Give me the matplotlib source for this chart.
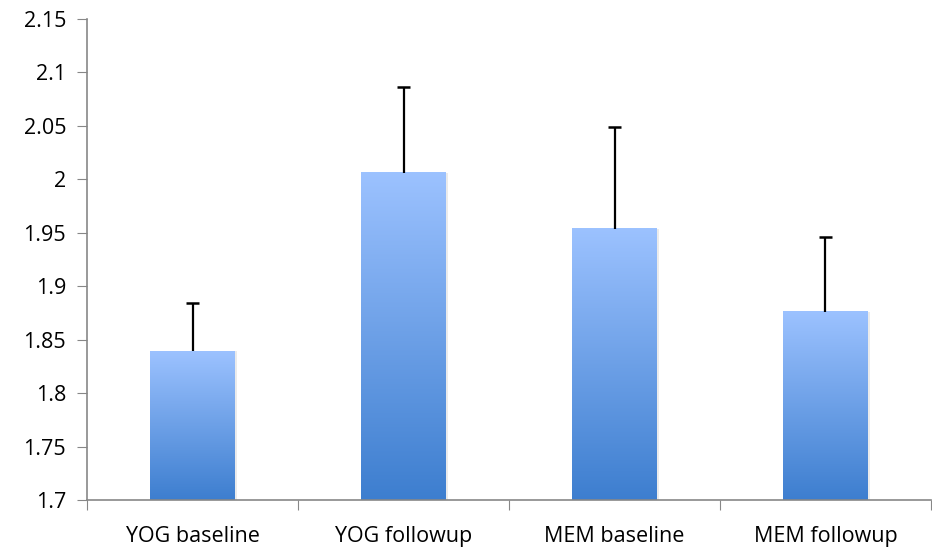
import matplotlib.pyplot as plt
import numpy as np
from matplotlib.colors import LinearSegmentedColormap

groups = ['YOG baseline', 'YOG followup', 'MEM baseline', 'MEM followup']
means = [1.839, 2.006, 1.954, 1.876]
err_hi = [0.045, 0.080, 0.095, 0.070]

plt.rcParams['font.family'] = ['Open Sans', 'DejaVu Sans']

fig = plt.figure(figsize=(9.32, 5.48), dpi=100)
ax = fig.add_axes([87/932, 1-500/548, 844/932, 481/548])

cmap = LinearSegmentedColormap.from_list('bar', ['#3d7ecf', '#9cc2ff'])
grad = np.linspace(0, 1, 256).reshape(-1, 1)
ymin = 1.7
w = 0.4
cap = 0.032
for i, m in enumerate(means):
    # soft shadow on the right
    ax.bar(i + 0.012, m - ymin, w, bottom=ymin, color='#000000', alpha=0.08, zorder=1)
    ax.imshow(grad, cmap=cmap, origin='lower', aspect='auto',
              extent=[i - w/2, i + w/2, ymin, m], zorder=2)
    # upper error bar only
    ax.vlines(i, m, m + err_hi[i], color='black', lw=1.6, zorder=3)
    ax.hlines(m + err_hi[i], i - cap, i + cap, color='black', lw=1.8, zorder=3)

ax.set_xlim(-0.5, 3.5)
ax.set_ylim(1.7, 2.15)
ax.set_yticks(np.arange(1.7, 2.151, 0.05))
ax.set_yticklabels(['1.7', '1.75', '1.8', '1.85', '1.9', '1.95', '2', '2.05', '2.1', '2.15'])
ax.set_xticks(np.arange(-0.5, 3.6, 1))
ax.set_xticklabels([])
ax.set_xticks(range(4), minor=True)
ax.set_xticklabels(groups, minor=True)
ax.tick_params(axis='x', which='minor', length=0, pad=19, labelsize=15.5)
ax.tick_params(axis='x', which='major', length=7, color='#878787')
ax.tick_params(axis='y', length=7, color='#878787', labelsize=15.5, pad=8)
for s in ['top', 'right']:
    ax.spines[s].set_visible(False)
for s in ['left', 'bottom']:
    ax.spines[s].set_color('#878787')
    ax.spines[s].set_linewidth(1.2)

fig.savefig('out.png', dpi=100)
